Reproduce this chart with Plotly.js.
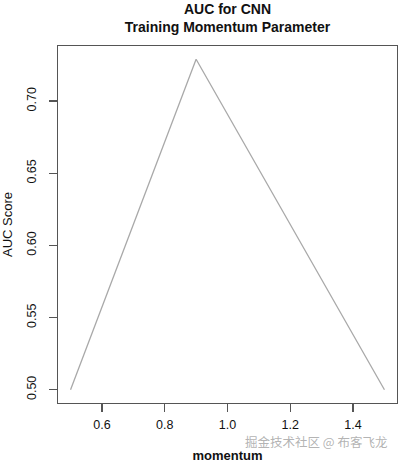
<!DOCTYPE html>
<html>
<head>
<meta charset="utf-8">
<script src="https://cdn.plot.ly/plotly-3.0.1.min.js"></script>
<style>html,body{margin:0;padding:0;background:#fff;}#chart{width:400px;height:463px;}</style>
</head>
<body>
<div id="chart"></div>
<script>
const momentum = [0.5, 0.9, 1.5];
const aucScore = [0.500, 0.729, 0.500];
const xTicks = [0.6, 0.8, 1.0, 1.2, 1.4];
const xTickLabels = ["0.6", "0.8", "1.0", "1.2", "1.4"];
const yTicks = [0.50, 0.55, 0.60, 0.65, 0.70];
const yTickLabels = ["0.50", "0.55", "0.60", "0.65", "0.70"];

const font = "Liberation Sans, Arial, sans-serif";
const trace = {
  x: momentum, y: aucScore, type: "scatter", mode: "lines",
  line: {color: "#a9a9a9", width: 1.3}, hoverinfo: "skip"
};
const layout = {
  width: 400, height: 463,
  margin: {l: 58, r: 3, t: 46, b: 60},
  paper_bgcolor: "#fff", plot_bgcolor: "#fff",
  showlegend: false,
  font: {family: font, color: "#111", size: 12},
  title: {
    text: "<b>AUC for CNN</b><br><b>Training Momentum Parameter</b>",
    x: 0.5, xref: "paper", xanchor: "center",
    y: 0.97, yref: "container", yanchor: "top",
    font: {family: font, size: 14, color: "#111"}
  },
  xaxis: {
    range: [0.46, 1.54], tickvals: xTicks, ticktext: xTickLabels,
    showgrid: false, zeroline: false, showline: true, mirror: true,
    linecolor: "#555", linewidth: 1.3, ticks: "outside", ticklen: 8,
    tickcolor: "#555", tickwidth: 1.3, ticklabelstandoff: 2,
    tickfont: {family: font, size: 12.5, color: "#111"},
    title: {text: "<b>momentum</b>", standoff: 26, font: {family: font, size: 13, color: "#111"}},
    automargin: false, fixedrange: true
  },
  yaxis: {
    range: [0.4908, 0.7382], tickvals: yTicks, ticktext: yTickLabels,
    tickangle: -90,
    showgrid: false, zeroline: false, showline: true, mirror: true,
    linecolor: "#555", linewidth: 1.3, ticks: "outside", ticklen: 8,
    tickcolor: "#555", tickwidth: 1.3, ticklabelstandoff: 8,
    tickfont: {family: font, size: 12.5, color: "#111"},
    title: {text: "AUC Score", standoff: 10, font: {family: font, size: 13, color: "#111"}},
    automargin: false, fixedrange: true
  },
  annotations: [{
    text: "掘金技术社区 @ 布客飞龙", xref: "paper", yref: "paper",
    x: 0.975, y: -0.108, xanchor: "right", yanchor: "middle", showarrow: false,
    font: {family: "Noto Sans CJK SC, sans-serif", size: 12.5, color: "rgba(170,170,170,0.9)"}
  }]
};
Plotly.newPlot("chart", [trace], layout, {displayModeBar: false, staticPlot: true});
</script>
</body>
</html>
